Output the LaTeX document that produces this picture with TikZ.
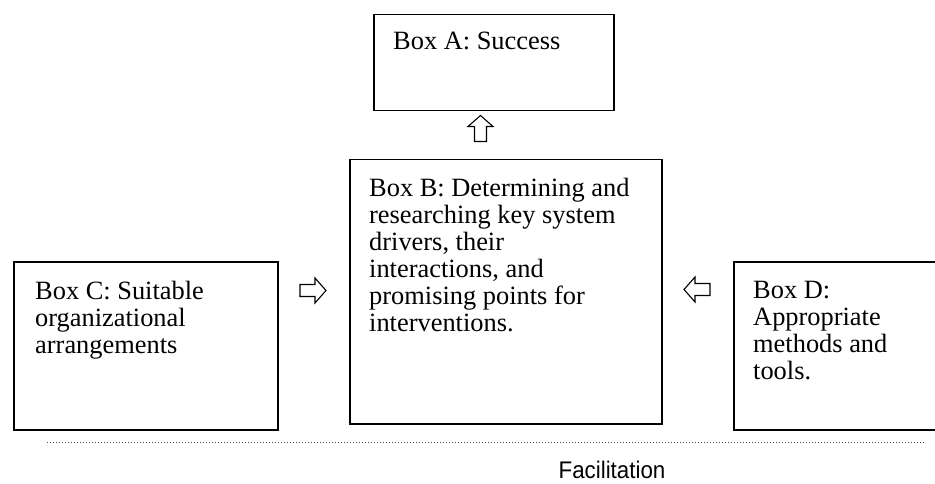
\documentclass[tikz,border=0pt]{standalone}
\usepackage{fontspec}
\setmainfont{Liberation Serif}
\newfontfamily\facfont{Liberation Sans}
\usepackage{tikz}
\tikzset{
 panel/.style={
 rectangle,
 draw=black,
 line width=1.5pt,
 anchor=north west,
 inner sep=0pt
 },
 paneltext/.style={
 anchor=north west,
 align=left,
 inner sep=0pt,
 font=\fontsize{26.4}{27}\selectfont
 },
 dotline/.style={line width=0.7pt, draw=black!70, dash pattern=on 0.7pt off 2.3pt},
 blockarrow/.pic={
 \draw[line width=1.1pt] (-13,-6) -- (2,-6) -- (2,-12.5) -- (13,0) -- (2,12.5) -- (2,6) -- (-13,6) -- cycle;
 }
}

\begin{document}
\begin{tikzpicture}[x=1pt, y=-1pt]
 \useasboundingbox (0,0) rectangle (935,484);

 \node[panel, minimum width=240, minimum height=96] (boxA) at (373,14) {};
 \node[panel, minimum width=312, minimum height=264] (boxB) at (349,159) {};
 \node[panel, minimum width=264, minimum height=168] (boxC) at (13,261) {};
 \node[panel, minimum width=214, minimum height=168] (boxD) at (733,261) {};

 \node[paneltext] (txtA) at ([shift={(20,18)}]boxA.north west) {Box A: Success};
 \node[paneltext] (txtB) at ([shift={(20,19)}]boxB.north west) {Box B: Determining and\\researching key system\\drivers, their\\interactions, and\\promising points for\\interventions.};
 \node[paneltext] (txtC) at ([shift={(22,20)}]boxC.north west) {Box C: Suitable\\organizational\\arrangements};
 \node[paneltext] (txtD) at ([shift={(20,20)}]boxD.north west) {Box D:\\Appropriate\\methods and\\tools.};

 % block arrows between the boxes
 \pic[rotate=90] at (480.5,128.5) {blockarrow};
 \pic at (313,290.5) {blockarrow};
 \pic[rotate=180] at (697,289.5) {blockarrow};

 \coordinate (dotL) at (47,442);
 \coordinate (dotR) at (925,442);
 \draw[dotline] (dotL) -- (dotR);

 \node[font=\facfont\fontsize{24}{27}\selectfont, xscale=0.93, anchor=base] (facil) at (612,478) {Facilitation};
\end{tikzpicture}
\end{document}
